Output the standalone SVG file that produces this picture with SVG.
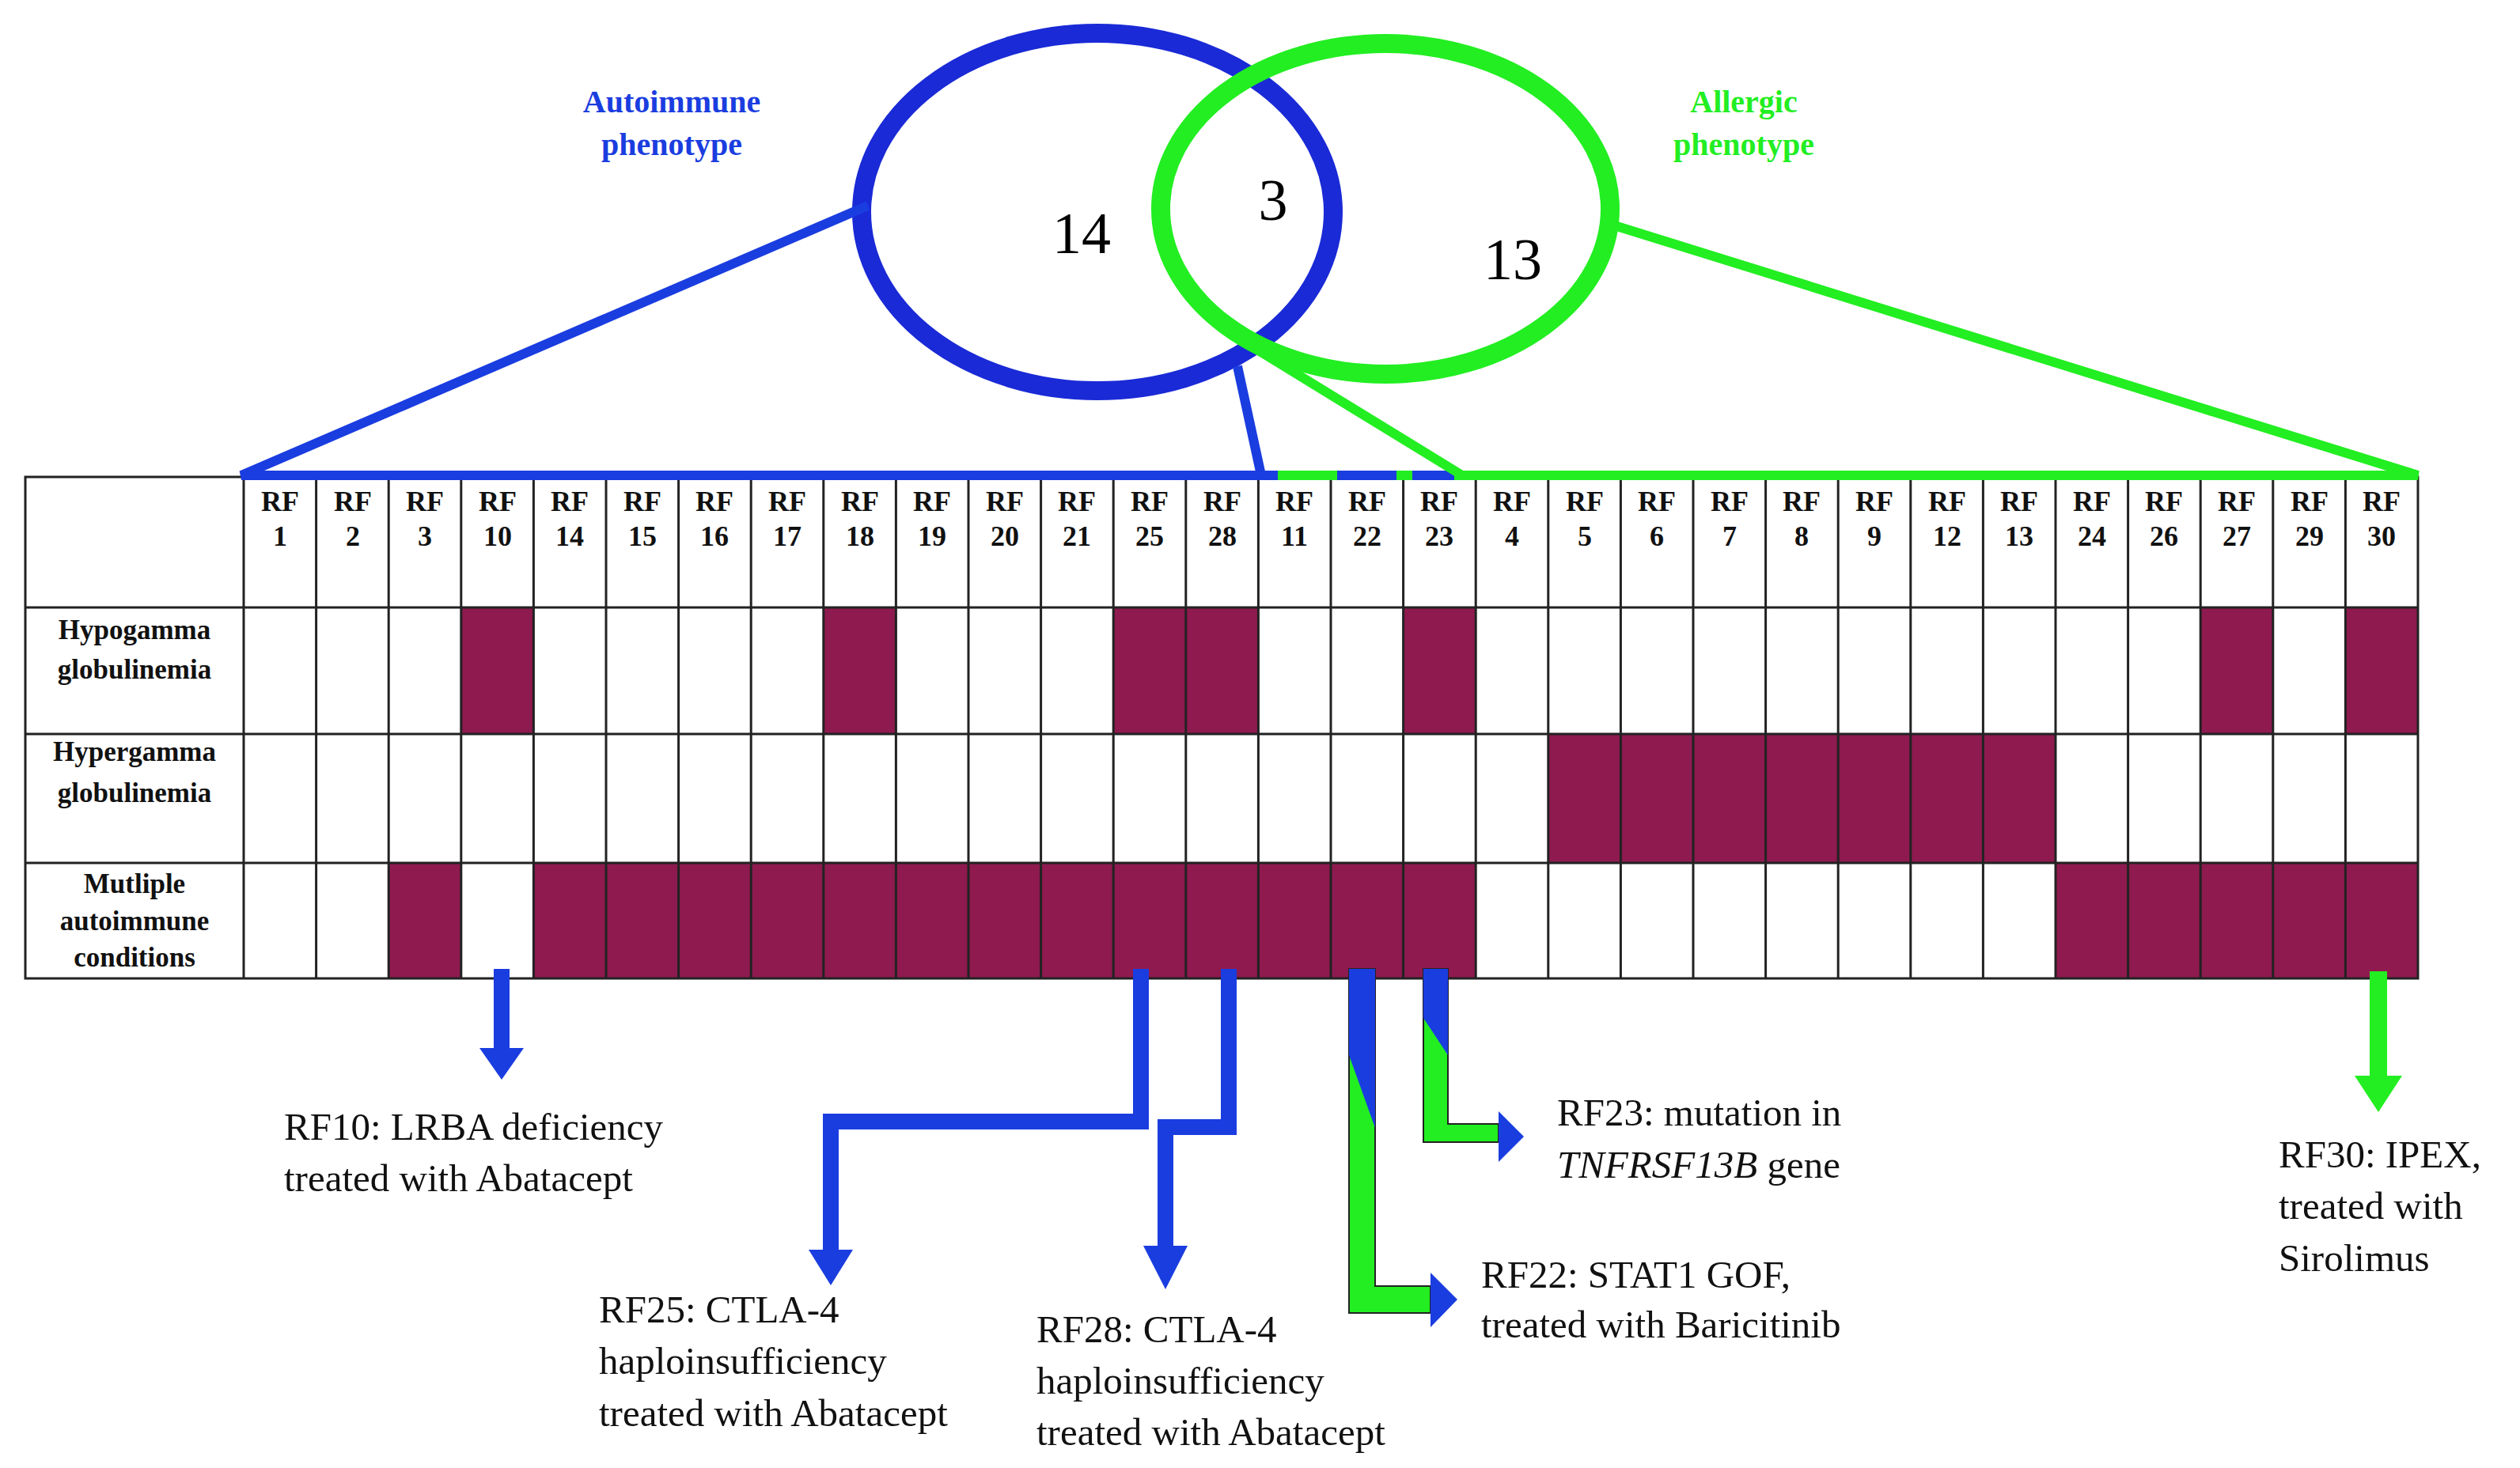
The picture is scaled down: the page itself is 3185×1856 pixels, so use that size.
<svg xmlns="http://www.w3.org/2000/svg" width="3185" height="1856" viewBox="0 0 3185 1856">
<style>
.h{font-family:"Liberation Serif",serif;font-weight:bold;font-size:36px;text-anchor:middle;fill:#111}
.l{font-family:"Liberation Serif",serif;font-weight:bold;font-size:35px;text-anchor:middle;fill:#111}
.t{font-family:"Liberation Serif",serif;font-size:49px;fill:#111}
.g{stroke:#222;stroke-width:3;fill:none}
.f{fill:#8e1a4f}
.bl{stroke:#1a3de0;fill:none}
.gr{stroke:#22ee22;fill:none}
</style>
<rect width="3185" height="1856" fill="#fff"/>
<g id="venn">
<ellipse cx="1387" cy="268" rx="298" ry="226" fill="none" stroke="#1a2ad6" stroke-width="24"/>
<ellipse cx="1751" cy="264" rx="284" ry="209" fill="none" stroke="#22ee22" stroke-width="24"/>
<text x="1367" y="320" font-family="Liberation Serif,serif" font-size="74" text-anchor="middle">14</text>
<text x="1609" y="278" font-family="Liberation Serif,serif" font-size="74" text-anchor="middle">3</text>
<text x="1912" y="353" font-family="Liberation Serif,serif" font-size="74" text-anchor="middle">13</text>
<text x="849" y="142" font-family="Liberation Serif,serif" font-weight="bold" font-size="40" text-anchor="middle" fill="#1a3de0">Autoimmune</text>
<text x="849" y="196" font-family="Liberation Serif,serif" font-weight="bold" font-size="40" text-anchor="middle" fill="#1a3de0">phenotype</text>
<text x="2204" y="142" font-family="Liberation Serif,serif" font-weight="bold" font-size="40" text-anchor="middle" fill="#22ee22">Allergic</text>
<text x="2204" y="196" font-family="Liberation Serif,serif" font-weight="bold" font-size="40" text-anchor="middle" fill="#22ee22">phenotype</text>
</g>
<g id="table">
<rect class="f" x="583" y="768" width="92" height="160"/>
<rect class="f" x="1041" y="768" width="92" height="160"/>
<rect class="f" x="1407" y="768" width="184" height="160"/>
<rect class="f" x="1774" y="768" width="92" height="160"/>
<rect class="f" x="2781" y="768" width="92" height="160"/>
<rect class="f" x="2964" y="768" width="92" height="160"/>
<rect class="f" x="1957" y="928" width="641" height="163"/>
<rect class="f" x="491" y="1091" width="92" height="146"/>
<rect class="f" x="674" y="1091" width="1192" height="146"/>
<rect class="f" x="2598" y="1091" width="458" height="146"/>
<rect class="g" x="32" y="603" width="3024" height="634"/>
<path class="g" d="M32 768H3056M32 928H3056M32 1091H3056M308 603V1237M399.6 603V1237M491.2 603V1237M582.8 603V1237M674.4 603V1237M766 603V1237M857.6 603V1237M949.2 603V1237M1040.8 603V1237M1132.4 603V1237M1224 603V1237M1315.6 603V1237M1407.2 603V1237M1498.8 603V1237M1590.4 603V1237M1682 603V1237M1773.6 603V1237M1865.2 603V1237M1956.8 603V1237M2048.4 603V1237M2140 603V1237M2231.6 603V1237M2323.2 603V1237M2414.8 603V1237M2506.4 603V1237M2598 603V1237M2689.6 603V1237M2781.2 603V1237M2872.8 603V1237M2964.4 603V1237"/>
<g class="h">
<text x="354" y="646">RF</text><text x="354" y="690">1</text>
<text x="446" y="646">RF</text><text x="446" y="690">2</text>
<text x="537" y="646">RF</text><text x="537" y="690">3</text>
<text x="629" y="646">RF</text><text x="629" y="690">10</text>
<text x="720" y="646">RF</text><text x="720" y="690">14</text>
<text x="812" y="646">RF</text><text x="812" y="690">15</text>
<text x="903" y="646">RF</text><text x="903" y="690">16</text>
<text x="995" y="646">RF</text><text x="995" y="690">17</text>
<text x="1087" y="646">RF</text><text x="1087" y="690">18</text>
<text x="1178" y="646">RF</text><text x="1178" y="690">19</text>
<text x="1270" y="646">RF</text><text x="1270" y="690">20</text>
<text x="1361" y="646">RF</text><text x="1361" y="690">21</text>
<text x="1453" y="646">RF</text><text x="1453" y="690">25</text>
<text x="1545" y="646">RF</text><text x="1545" y="690">28</text>
<text x="1636" y="646">RF</text><text x="1636" y="690">11</text>
<text x="1728" y="646">RF</text><text x="1728" y="690">22</text>
<text x="1819" y="646">RF</text><text x="1819" y="690">23</text>
<text x="1911" y="646">RF</text><text x="1911" y="690">4</text>
<text x="2003" y="646">RF</text><text x="2003" y="690">5</text>
<text x="2094" y="646">RF</text><text x="2094" y="690">6</text>
<text x="2186" y="646">RF</text><text x="2186" y="690">7</text>
<text x="2277" y="646">RF</text><text x="2277" y="690">8</text>
<text x="2369" y="646">RF</text><text x="2369" y="690">9</text>
<text x="2461" y="646">RF</text><text x="2461" y="690">12</text>
<text x="2552" y="646">RF</text><text x="2552" y="690">13</text>
<text x="2644" y="646">RF</text><text x="2644" y="690">24</text>
<text x="2735" y="646">RF</text><text x="2735" y="690">26</text>
<text x="2827" y="646">RF</text><text x="2827" y="690">27</text>
<text x="2919" y="646">RF</text><text x="2919" y="690">29</text>
<text x="3010" y="646">RF</text><text x="3010" y="690">30</text>
</g>
<g class="l">
<text x="170" y="808">Hypogamma</text><text x="170" y="858">globulinemia</text>
<text x="170" y="962">Hypergamma</text><text x="170" y="1014">globulinemia</text>
<text x="170" y="1129">Mutliple</text><text x="170" y="1176">autoimmune</text><text x="170" y="1222">conditions</text>
</g>
</g>
<g id="connectors">
<path class="bl" stroke-width="12" d="M1097 260L305 601H1615M1564 463L1594 601M1690 601H1765M1785 601H1838"/>
<path class="gr" stroke-width="12" d="M1574 433L1848 601M1615 601H1690M1765 601H1785M1838 601H3056L2037 284"/>
<path class="bl" stroke-width="20" d="M634 1225V1330"/>
<polygon points="606,1325 662,1325 634,1365" fill="#1a3de0"/>
<path class="bl" stroke-width="20" d="M1442 1225V1418H1050V1585"/>
<polygon points="1022,1580 1078,1580 1050,1625" fill="#1a3de0"/>
<path class="bl" stroke-width="20" d="M1553 1225V1425H1473V1580"/>
<polygon points="1445,1575 1501,1575 1473,1630" fill="#1a3de0"/>
<polygon points="1705,1225 1738,1225 1738,1626 1808,1626 1808,1660 1705,1660" fill="#22ee22" stroke="#222" stroke-width="2"/>
<polygon points="1705,1225 1738,1225 1738,1426 1705,1334" fill="#1a3de0"/>
<polygon points="1808,1609 1842,1643 1808,1678" fill="#1a3de0"/>
<polygon points="1799,1225 1830,1225 1830,1421 1894,1421 1894,1444 1799,1444" fill="#22ee22" stroke="#222" stroke-width="2"/>
<polygon points="1799,1225 1830,1225 1830,1334 1799,1287" fill="#1a3de0"/>
<polygon points="1894,1405 1926,1437 1894,1469" fill="#1a3de0"/>
<path class="gr" stroke-width="22" d="M3006 1228V1365"/>
<polygon points="2976,1360 3036,1360 3006,1406" fill="#22ee22"/>
</g>
<g id="labels" class="t">
<text x="359" y="1441">RF10: LRBA deficiency</text>
<text x="359" y="1506">treated  with Abatacept</text>
<text x="757" y="1672">RF25: CTLA-4</text>
<text x="757" y="1737">haploinsufficiency</text>
<text x="757" y="1803">treated  with Abatacept</text>
<text x="1310" y="1697">RF28: CTLA-4</text>
<text x="1310" y="1762">haploinsufficiency</text>
<text x="1310" y="1827">treated  with Abatacept</text>
<text x="1968" y="1423">RF23: mutation  in</text>
<text x="1968" y="1489"><tspan font-style="italic">TNFRSF13B</tspan> gene</text>
<text x="1872" y="1628">RF22: STAT1 GOF,</text>
<text x="1872" y="1691">treated  with Baricitinib</text>
<text x="2880" y="1476">RF30: IPEX,</text>
<text x="2880" y="1541">treated  with</text>
<text x="2880" y="1607">Sirolimus</text>
</g>
</svg>
